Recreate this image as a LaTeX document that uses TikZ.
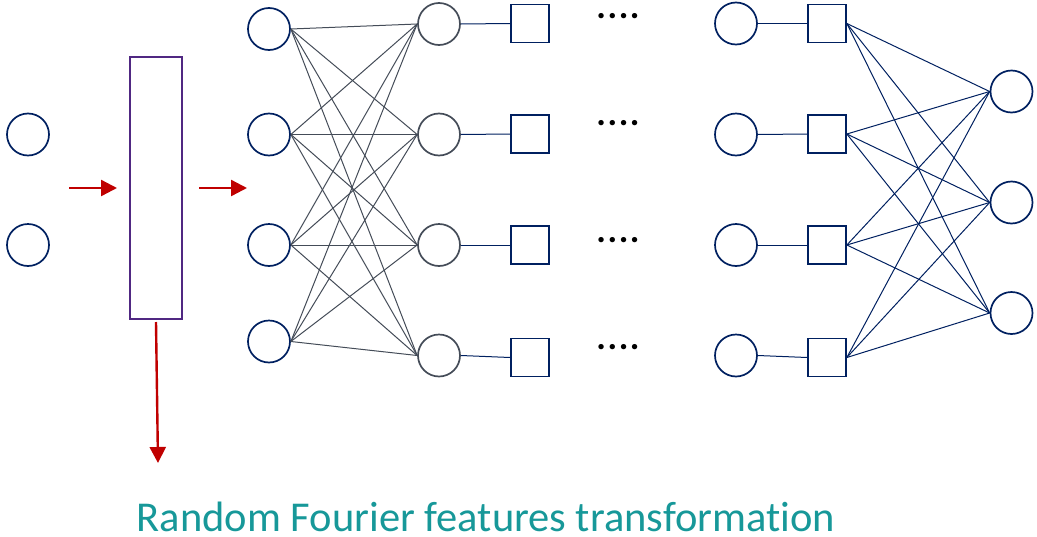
\documentclass[tikz,border=0pt]{standalone}
\usepackage{fontspec}
\setmainfont{Carlito}[Ligatures=NoCommon]
\usetikzlibrary{arrows.meta}
\definecolor{navy}{RGB}{0,32,96}
\definecolor{slate}{RGB}{68,76,88}
\definecolor{arrred}{RGB}{192,0,0}
\definecolor{boxpurple}{RGB}{80,40,130}
\definecolor{teal2}{RGB}{23,152,153}
\tikzset{
  neuron/.style={circle, draw=navy, line width=1.7pt, minimum size=42pt, inner sep=0pt},
  gneuron/.style={circle, draw=slate, line width=1.7pt, minimum size=42pt, inner sep=0pt},
  sq/.style={rectangle, draw=navy, line width=1.7pt, minimum size=38pt, inner sep=0pt},
  glink/.style={draw=slate, line width=1pt},
  nlink/.style={draw=navy, line width=1pt},
  redarrow/.style={draw=arrred, line width=2.4pt, -{Triangle[length=16pt,width=16pt]}},
  dotsnode/.style={font=\bfseries\fontsize{36}{36}\selectfont, inner sep=0pt, anchor=base, text height=6pt, text depth=0pt}
}
\begin{document}
\begin{tikzpicture}[x=1pt,y=-1pt]
\useasboundingbox (0,0) rectangle (1037,536);
% input
\node[neuron] (i1) at (28,134.5) {};
\node[neuron] (i2) at (28,245) {};
% box
\node[rectangle, draw=boxpurple, line width=1.6pt, minimum width=52pt, minimum height=262pt, inner sep=0pt] (box) at (156,188) {};
\coordinate (a1s) at (69,188);
\coordinate (a1e) at (117,188);
\coordinate (a2s) at (199,188);
\coordinate (a2e) at (247,188);
\coordinate (a3s) at (156,322);
\coordinate (a3e) at (158,463);
\draw[redarrow] (a1s) -- (a1e);
\draw[redarrow] (a2s) -- (a2e);
\draw[redarrow] (a3s) -- (a3e);
% layer 1
\foreach \i/\y in {1/29,2/134.5,3/245,4/341.5}
  \node[neuron] (a\i) at (269,\y) {};
% layer 2
\foreach \i/\y in {1/24,2/134.5,3/245,4/355.5}
  \node[gneuron] (b\i) at (439,\y) {};
% squares
\foreach \i/\y in {1/23.5,2/134,3/245,4/357.5}
  \node[sq] (s\i) at (530,\y) {};
% dots
\foreach \i/\y in {1/18,2/125,3/242,4/349}
  \node[dotsnode] (d\i) at (618,\y) {.\kern1.6pt.\kern1.6pt.\kern1.6pt.};
% right circles
\foreach \i/\y in {1/23.5,2/134.5,3/245,4/355.5}
  \node[neuron] (c\i) at (736,\y) {};
% right squares
\foreach \i/\y in {1/23.5,2/134,3/245,4/357.5}
  \node[sq] (t\i) at (827,\y) {};
% outputs
\foreach \i/\y in {1/91.5,2/202.5,3/313}
  \node[neuron] (o\i) at (1011.5,\y) {};
% links
\foreach \i in {1,...,4}{
  \foreach \j in {1,...,4}{
    \draw[glink] (a\i.east) -- (b\j.west);
  }
  \draw[nlink] (b\i.east) -- (s\i.west);
  \draw[nlink] (c\i.east) -- (t\i.west);
  \foreach \j in {1,2,3}{
    \draw[nlink] (t\i.east) -- (o\j.west);
  }
}
% caption
\node[text=teal2, font=\fontsize{42.5}{50}\selectfont, anchor=base, inner sep=0pt, text depth=0pt] (cap) at (486,531) {Random Fourier features transformation};
\end{tikzpicture}
\end{document}
